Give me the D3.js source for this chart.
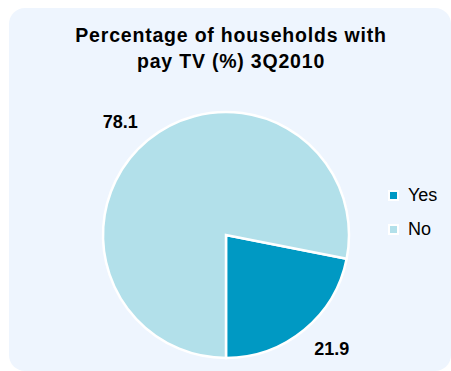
<!DOCTYPE html>
<html>
<head>
<meta charset="utf-8">
<script src="https://cdn.jsdelivr.net/npm/d3@7"></script>
<style>
  html, body { margin: 0; padding: 0; background: #ffffff; }
  svg { display: block; font-family: "Liberation Sans", Arial, sans-serif; }
</style>
</head>
<body>
<svg id="chart" width="451" height="371"></svg>
<script>
const titleLines = ["Percentage of households with", "pay TV (%) 3Q2010"];
const categories = ["Yes", "No"];
const values = [21.9, 78.1];
const colors = ["#0099C3", "#B2E0EA"];

const svg = d3.select("#chart");

// panel background
svg.append("rect")
  .attr("x", 9).attr("y", 8)
  .attr("width", 442).attr("height", 363)
  .attr("rx", 16).attr("ry", 16)
  .attr("fill", "#EEF5FE");

// title
const title = svg.append("text")
  .attr("text-anchor", "middle")
  .attr("font-size", 19.5)
  .attr("font-weight", "bold")
  .attr("letter-spacing", "0.8px")
  .attr("fill", "#000");
title.selectAll("tspan").data(titleLines).join("tspan")
  .attr("x", 231)
  .attr("y", (d, i) => 42 + i * 26)
  .text(d => d);

// pie
const cx = 226, cy = 235, r = 123;
const total = d3.sum(values);
const yesFrac = values[0] / total;
const start = Math.PI - yesFrac * 2 * Math.PI;
const pie = d3.pie().sort(null).value(d => d)
  .startAngle(start).endAngle(start + 2 * Math.PI);
const arcs = pie(values);
const arc = d3.arc().innerRadius(0).outerRadius(r);

const g = svg.append("g").attr("transform", `translate(${cx},${cy})`);
g.selectAll("path").data(arcs).join("path")
  .attr("d", arc)
  .attr("fill", (d, i) => colors[i])
  .attr("stroke", "#ffffff")
  .attr("stroke-width", 2.5)
  .attr("stroke-linejoin", "miter");

// labels
const fmt = d3.format(".1f");
const labelR = r + 16;
const lbl = g.selectAll("text.lbl").data(arcs).join("text")
  .attr("class", "lbl")
  .attr("font-size", 18)
  .attr("font-weight", "bold")
  .attr("fill", "#000")
  .attr("text-anchor", "middle")
  .text(d => fmt(d.value));
lbl.each(function(d) {
  const a = (d.startAngle + d.endAngle) / 2;
  const s = Math.sin(a), c = -Math.cos(a);
  const w = this.getComputedTextLength();
  const h = 13;
  const x = labelR * s + Math.sign(s) * w / 2;
  const y = labelR * c + Math.sign(c) * h / 2 + h / 2;
  d3.select(this).attr("x", x).attr("y", y);
});

// legend
const legend = svg.append("g");
const items = legend.selectAll("g").data(categories).join("g")
  .attr("transform", (d, i) => `translate(388,${190 + i * 34})`);
items.append("rect")
  .attr("x", 1).attr("y", 1)
  .attr("width", 9).attr("height", 9)
  .attr("fill", (d, i) => colors[i])
  .attr("stroke", "#ffffff")
  .attr("stroke-width", 2);
items.append("text")
  .attr("x", 20).attr("y", 11)
  .attr("font-size", 18)
  .attr("fill", "#000")
  .text(d => d);
</script>
</body>
</html>
